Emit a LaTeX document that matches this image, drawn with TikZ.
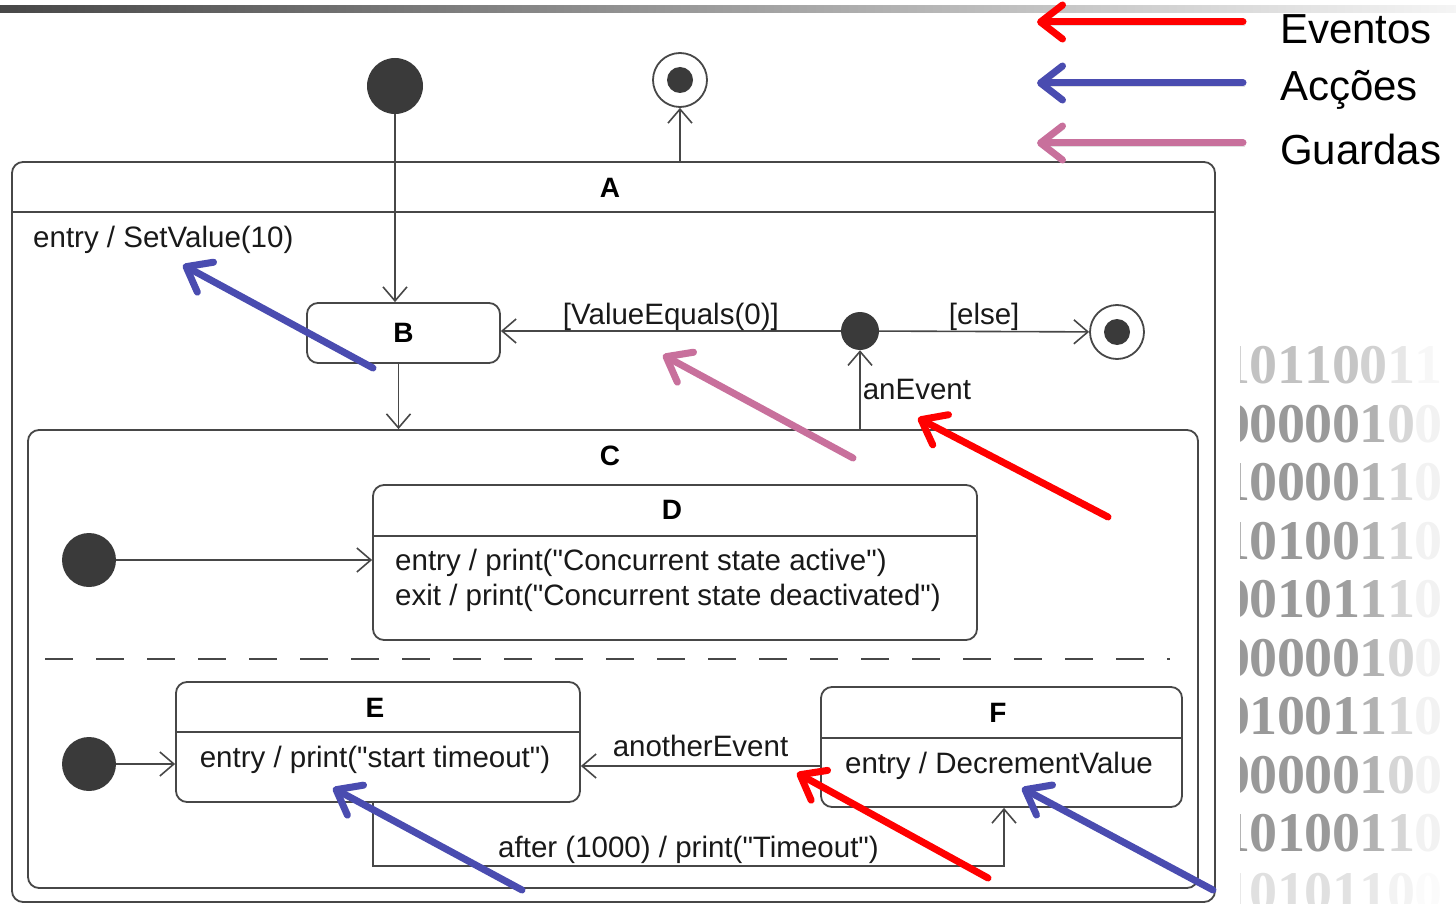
\documentclass[tikz,border=0pt]{standalone}
\usepackage{fontspec}
\setmainfont{Liberation Sans}
\newfontfamily\bitfont{Liberation Serif}
\usetikzlibrary{arrows.meta,positioning,calc}

\definecolor{ink}{HTML}{474747}
\definecolor{dot}{HTML}{3A3A3A}
\definecolor{evt}{HTML}{FF0000}
\definecolor{act}{HTML}{4A4CB0}
\definecolor{grd}{HTML}{C8709C}

\newcommand{\dq}{\textquotedbl}

\tikzset{
  >={Straight Barb[length=14pt,width=24pt]},
  stbox/.style={draw=ink, rounded corners=11pt, line width=1.8pt, inner sep=0pt},
  ttl/.style={font=\fontsize{28}{30}\selectfont\bfseries, text=black, inner sep=0pt},
  txt/.style={font=\fontsize{29.5}{34}\selectfont, text=black!90, inner sep=0pt},
  tr/.style={->, draw=ink, line width=1.6pt},
  startdot/.style={circle, fill=dot, minimum size=#1, inner sep=0pt},
  enddot/.style={circle, draw=ink, line width=1.8pt, fill=white, minimum size=54pt,
    inner sep=0pt, path picture={\fill[dot] (path picture bounding box.center) circle (13pt);}},
  choice/.style={circle, fill=dot, minimum size=38pt, inner sep=0pt},
  pointer/.style={draw=#1, line width=7pt, line cap=round,
    -{Straight Barb[length=22pt,width=34pt,round]},
    preaction={draw=black!40, opacity=.3, transform canvas={shift={(2pt,-3pt)}}}},
  legend/.style={font=\fontsize{42}{46}\selectfont, anchor=west, inner sep=0pt},
  bit/.style={font=\bitfont\bfseries\fontsize{56}{56}\selectfont, inner sep=0pt, anchor=base west},
}

\begin{document}
\begin{tikzpicture}[x=1pt, y=-1pt]
  \useasboundingbox (0,0) rectangle (1456,904);

  % title rule
  \shade[left color=black!72, right color=black!4] (0,6) rectangle (1456,13);

  % binary column on the right
  \begin{scope}
    \clip (1240,335) rectangle (1456,904);
    \foreach \bits [count=\r] in {{1,0,1,1,0,0,1,1},{0,0,0,0,0,1,0,0},{1,0,0,0,0,1,1,0},
        {1,0,1,0,0,1,1,0},{0,0,1,0,1,1,1,0},{0,0,0,0,0,1,0,0},{0,1,0,0,1,1,1,0},
        {0,0,0,0,0,1,0,0},{1,0,1,0,0,1,1,0},{1,0,1,0,1,1,0,0}}{
      \pgfmathsetmacro\rowfade{\r==1 ? 0.6 : (\r==10 ? 0.3 : 1)}
      \foreach \b [count=\c] in \bits {
        \pgfmathsetmacro\tone{\rowfade*{40,40,40,40,38,30,16,5}[\c-1]}
        \node[bit, text=black!\tone] (bit-\r-\c) at (1222+27.5*\c-27.5, 325+58.5*\r) {\b};
      }
    }
  \end{scope}

  % ---- states ----
  \node[stbox, minimum width=1203pt, minimum height=740pt] (A) at (613.5,532) {};
  \draw[ink, line width=1.8pt] ([yshift=-51pt]A.north west) -- ([yshift=-51pt]A.north east);
  \node[ttl] (Atitle) at (610,188) {A};
  \node[txt, anchor=west] (Aentry) at (33,240) {entry / SetValue(10)};

  \node[stbox, minimum width=193pt, minimum height=60pt, ttl] (B) at (403.5,333) {B};

  \node[stbox, minimum width=1170pt, minimum height=458pt] (C) at (613,659) {};
  \node[ttl] (Ctitle) at (610,456) {C};
  \draw[ink, line width=1.6pt, dash pattern=on 28pt off 23pt] (45,659) -- (1170,659);

  \node[stbox, minimum width=604pt, minimum height=155pt] (D) at (675,562.5) {};
  \draw[ink, line width=1.8pt] ([yshift=-52pt]D.north west) -- ([yshift=-52pt]D.north east);
  \node[ttl] (Dtitle) at (672,510) {D};
  \node[txt, anchor=west] (Dentry) at (395,563) {entry / print(\dq Concurrent state active\dq)};
  \node[txt, anchor=west] (Dexit) at (395,598) {exit / print(\dq Concurrent state deactivated\dq)};

  \node[stbox, minimum width=404pt, minimum height=120pt] (E) at (378,742) {};
  \draw[ink, line width=1.8pt] ([yshift=-51pt]E.north west) -- ([yshift=-51pt]E.north east);
  \node[ttl] (Etitle) at (375,708) {E};
  \node[txt] (Eentry) at (375,760) {entry / print(\dq start timeout\dq)};

  \node[stbox, minimum width=361pt, minimum height=120pt] (F) at (1001.5,747) {};
  \draw[ink, line width=1.8pt] ([yshift=-52pt]F.north west) -- ([yshift=-52pt]F.north east);
  \node[ttl] (Ftitle) at (998,713) {F};
  \node[txt] (Fentry) at (999,766) {entry / DecrementValue};

  % ---- pseudostates ----
  \node[startdot=56pt] (i0) at (395,86) {};
  \node[enddot] (f0) at (680,80) {};
  \node[choice] (j) at (860,331) {};
  \node[enddot] (f1) at (1117,332) {};
  \node[startdot=54pt] (iD) at (89,560) {};
  \node[startdot=54pt] (iE) at (89,764) {};

  % ---- transitions ----
  \draw[tr] (i0) -- (i0 |- B.north);
  \draw[tr] (A.north -| f0) -- (f0);
  \draw[tr] ([xshift=-5pt]B.south) -- ([xshift=-5pt]B.south |- C.north);
  \draw[tr] (j) -- (j -| B.east) node[midway, above=0pt, txt] (guard1) {[ValueEquals(0)]};
  \draw[tr] (j) -- (f1) node[midway, above=0pt, txt] (guard2) {[else]};
  \draw[tr] (C.north -| j) -- (j) node[midway, right=2pt, txt] (ev1) {anEvent};
  \draw[tr] (iD) -- (iD -| D.west);
  \draw[tr] (iE) -- (iE -| E.west);
  \draw[tr] ([yshift=-19pt]F.west) -- ([yshift=-19pt]F.west -| E.east)
    node[midway, above=8pt, txt] (ev2) {anotherEvent};
  \draw[tr] ([xshift=-5pt]E.south) -- ++(0,63) -| ([xshift=2.5pt]F.south)
    node[pos=0.25, above=1pt, txt] (ev3) {after (1000) / print(\dq Timeout\dq)};

  % ---- legend ----
  \draw[pointer=evt] (1243,22) -- (1037,22);
  \draw[pointer=act] (1243,83) -- (1037,83);
  \draw[pointer=grd] (1243,143) -- (1037,143);
  \node[legend] (lgEvt) at (1280,29) {Eventos};
  \node[legend] (lgAct) at (1280,90) {Acções};
  \node[legend] (lgGrd) at (1280,149) {Guardas};

  % ---- pointers into the diagram ----
  \draw[pointer=act] (373,368) -- (183,265);
  \draw[pointer=grd] (853,458) -- (663,355);
  \draw[pointer=evt] (1108,517) -- (918,418);
  \draw[pointer=evt] (988,878) -- (797,773);
  \draw[pointer=act] (522,890) -- (333,788);
  \draw[pointer=act] (1213,890) -- (1022,788);
\end{tikzpicture}
\end{document}
